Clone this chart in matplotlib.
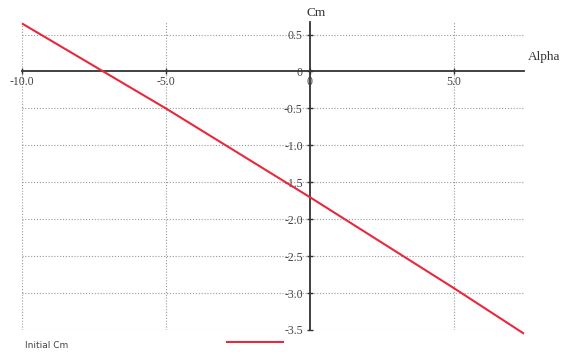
import matplotlib
matplotlib.use("Agg")
import matplotlib.pyplot as plt
from matplotlib.lines import Line2D

# Pitching moment coefficient versus angle of attack
alpha = [-10.0, -5.0, 0.0, 5.0, 7.45]
cm = [0.65, -0.50, -1.70, -2.93, -3.55]

x_ticks = [-10.0, -5.0, 0.0, 5.0]
x_tick_labels = ["-10.0", "-5.0", "0", "5.0"]
y_ticks = [0.5, 0.0, -0.5, -1.0, -1.5, -2.0, -2.5, -3.0, -3.5]
y_tick_labels = ["0.5", "0", "-0.5", "-1.0", "-1.5", "-2.0", "-2.5", "-3.0", "-3.5"]
series_name = "Initial Cm"

W, H = 568, 358
fig = plt.figure(figsize=(W / 100, H / 100), dpi=100)
ax = fig.add_axes([22 / W, (H - 330) / H, (524 - 22) / W, (330 - 22) / H])
ax.set_xlim(-10.0, 7.45)
ax.set_ylim(-3.5, 0.67)

serif = ["Liberation Serif", "DejaVu Serif"]
tick_color = "#444444"

# dotted grid
for xv in x_ticks:
    if xv != 0:
        ax.axvline(xv, color="#999999", lw=0.8, ls=(0, (1, 1.6)), zorder=1)
for yv in y_ticks:
    if yv != 0:
        ax.axhline(yv, color="#999999", lw=0.8, ls=(0, (1, 1.6)), zorder=1)

# axes crossing at the origin
for side in ("top", "right"):
    ax.spines[side].set_visible(False)
ax.spines["left"].set_position(("data", 0))
ax.spines["bottom"].set_position(("data", 0))
for side in ("left", "bottom"):
    ax.spines[side].set_color("#333333")
    ax.spines[side].set_linewidth(1.3)
    ax.spines[side].set_zorder(3)

ax.set_xticks(x_ticks)
ax.set_xticklabels(x_tick_labels, fontfamily=serif, fontsize=8.5, color=tick_color)
ax.set_yticks(y_ticks)
ax.set_yticklabels(y_tick_labels, fontfamily=serif, fontsize=8.5, color=tick_color)
ax.tick_params(axis="both", direction="inout", length=4, width=1.0, color="#333333")
ax.tick_params(axis="x", pad=1)
ax.tick_params(axis="y", pad=3)

ax.plot(alpha, cm, color="#e8283c", lw=1.5, zorder=4, solid_capstyle="butt", clip_on=False)

# axis names
fig.text(316 / W, (H - 13) / H, "Cm", fontfamily=serif, fontsize=9.5, color="#333333",
         ha="center", va="center")
fig.text(528 / W, (H - 57) / H, "Alpha", fontfamily=serif, fontsize=9.5, color="#333333",
         ha="left", va="center")

# legend row
fig.text(25 / W, (H - 345) / H, series_name, fontfamily=["DejaVu Sans"], fontsize=6.5,
         color="#444444", ha="left", va="center")
fig.add_artist(Line2D([227 / W, 283 / W], [(H - 342) / H, (H - 342) / H],
                      transform=fig.transFigure, color="#e8283c", lw=1.5))

fig.savefig("out.png", dpi=100)
